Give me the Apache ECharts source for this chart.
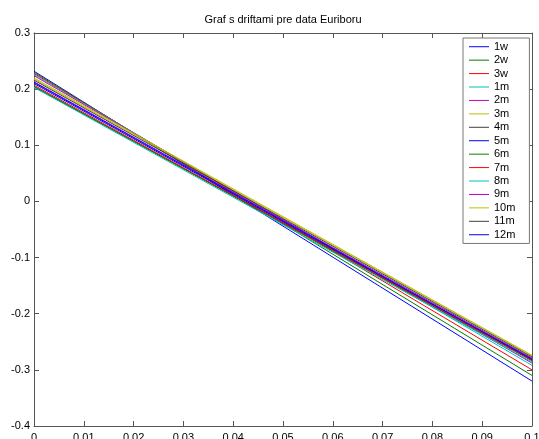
<!DOCTYPE html>
<html>
<head>
<meta charset="utf-8">
<script src="https://cdn.jsdelivr.net/npm/echarts@6/dist/echarts.min.js"></script>
<style>html,body{margin:0;padding:0;background:#fff;}#c{width:539px;height:439px;}</style>
</head>
<body>
<div id="c"></div>
<script>
const titleText = 'Graf s driftami pre data Euriboru';
const xPoints = [0, 0.1];
const names = ['1w','2w','3w','1m','2m','3m','4m','5m','6m','7m','8m','9m','10m','11m','12m'];
const colors = ['#0000FF','#008000','#FF0000','#00BFBF','#BF00BF','#BFBF00','#404040',
                '#0000FF','#008000','#FF0000','#00BFBF','#BF00BF','#BFBF00','#404040','#0000FF'];
// value at x = 0 and at x = 0.1 for each maturity
const v1w  = [0.232, -0.320];
const v2w  = [0.230, -0.310];
const v3w  = [0.228, -0.300];
const v1m  = [0.226, -0.292];
const v2m  = [0.224, -0.288];
const v3m  = [0.220, -0.274];
const v4m  = [0.204, -0.280];
const v5m  = [0.210, -0.282];
const v6m  = [0.205, -0.284];
const v7m  = [0.207, -0.283];
const v8m  = [0.203, -0.286];
const v9m  = [0.213, -0.279];
const v10m = [0.218, -0.275];
const v11m = [0.216, -0.277];
const v12m = [0.212, -0.281];
const values = [v1w,v2w,v3w,v1m,v2m,v3m,v4m,v5m,v6m,v7m,v8m,v9m,v10m,v11m,v12m];

const font = 'Liberation Sans, Arial, sans-serif';
const axisCol = '#555';
const fmt = v => String(+(+v).toFixed(3));

const series = names.map((n, i) => ({
  name: n,
  type: 'line',
  symbol: 'none',
  xAxisIndex: 0, yAxisIndex: 0,
  data: xPoints.map((x, j) => [x, values[i][j]]),
  lineStyle: { width: 1, color: colors[i] },
  itemStyle: { color: colors[i] },
  animation: false
}));

function axis(pos, showLabel, extra) {
  return Object.assign({
    type: 'value', position: pos,
    axisLine: { show: true, onZero: false, lineStyle: { color: axisCol } },
    axisTick: { show: true, inside: true, length: 5, lineStyle: { color: axisCol } },
    axisLabel: { show: showLabel, fontFamily: font, fontSize: 11, color: '#000', formatter: fmt,
      hideOverlap: false },
    splitLine: { show: false }
  }, extra);
}

const chart = echarts.init(document.getElementById('c'));
const xa0 = axis('bottom', true, { min: 0, max: 0.1, interval: 0.01 });
xa0.axisLabel.margin = 6;
const ya0 = axis('left', true, { min: -0.4, max: 0.3, interval: 0.1 });
ya0.axisLabel.margin = 4;
chart.setOption({
  animation: false,
  backgroundColor: '#fff',
  title: {
    text: titleText, left: 283, top: 14, textAlign: 'center', padding: 0,
    textStyle: { fontFamily: font, fontSize: 11, fontWeight: 'normal', color: '#000' }
  },
  grid: { left: 34, top: 33, right: 7, bottom: 13, containLabel: false, outerBoundsMode: 'none' },
  legend: {
    orient: 'vertical', left: 463, top: 38,
    data: names,
    icon: 'rect',
    itemWidth: 20, itemHeight: 1, itemGap: 0,
    padding: [2, 14, 2, 6],
    backgroundColor: '#fff', borderColor: '#777', borderWidth: 1,
    textStyle: { fontFamily: font, fontSize: 11, color: '#000', lineHeight: 13.43 }
  },
  xAxis: [xa0, axis('top', false, { min: 0, max: 0.1, interval: 0.01 })],
  yAxis: [ya0, axis('right', false, { min: -0.4, max: 0.3, interval: 0.1 })],
  series: series
});
</script>
</body>
</html>
